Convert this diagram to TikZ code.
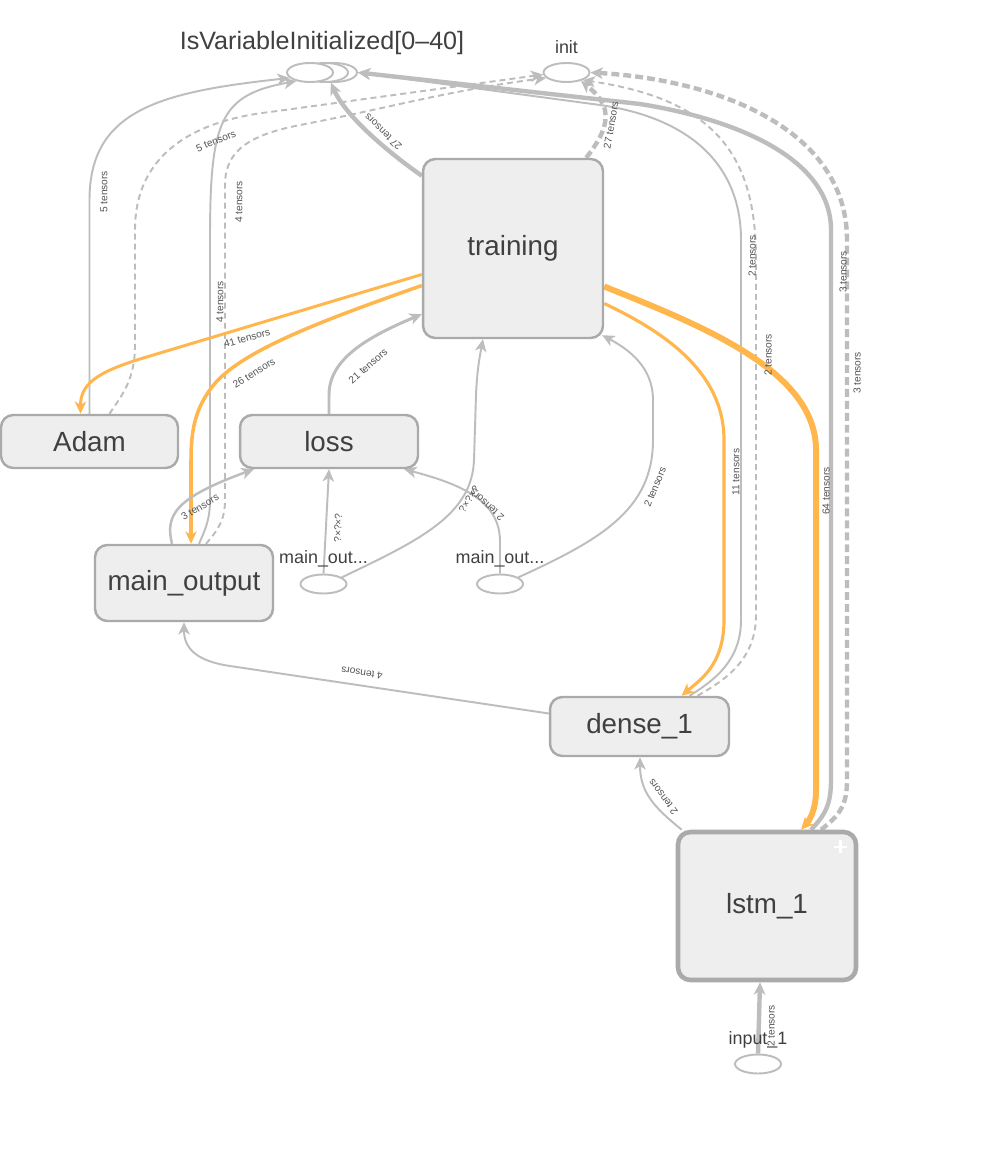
\documentclass[tikz,border=0pt]{standalone}
\usepackage{fontspec}
\setmainfont{Liberation Sans}
\usetikzlibrary{arrows.meta, positioning, calc, shapes.geometric}

\definecolor{boxfill}{HTML}{EEEEEE}
\definecolor{boxline}{HTML}{AAAAAA}
\definecolor{wire}{HTML}{BDBDBD}
\definecolor{hot}{HTML}{FFB74D}
\definecolor{ink}{HTML}{404040}
\definecolor{tagink}{HTML}{555555}

\pgfdeclarelayer{wires}
\pgfsetlayers{wires,main}

\tikzset{
  opbox/.style={draw=boxline, fill=boxfill, line width=1.4pt, rounded corners=7pt,
    text=ink, font=\fontsize{15.8}{18}\selectfont, inner sep=0pt},
  opnode/.style={ellipse, draw=wire, fill=white, line width=1.1pt,
    minimum width=0.92cm, minimum height=0.38cm, inner sep=0pt},
  oplabel/.style={text=ink, font=\fontsize{10.2}{12}\selectfont, inner sep=0pt},
  tag/.style={text=tagink, font=\fontsize{5.8}{7}\selectfont, inner sep=0pt},
  flow/.style={draw=wire, line width=1.1pt, -{Stealth[length=7pt,width=6.5pt,inset=2pt]}},
  flowthick/.style={flow, line width=2.5pt},
  ctrl/.style={dash pattern=on 3.4pt off 2.3pt},
  ctrlthick/.style={dash pattern=on 4.5pt off 2.3pt},
  hotflow/.style={flow, draw=hot, -{Stealth[length=7pt,width=6.5pt,inset=2pt,fill=hot]}}
}

\begin{document}
\begin{tikzpicture}[x=0.02cm, y=-0.02cm]
    \useasboundingbox (0,0) rectangle (981,1165);

    % Operation boxes
    \node[opbox, minimum width=3.6cm, minimum height=3.58cm] (training) at (513,248.5) {training};
    \node[opbox, minimum width=3.54cm, minimum height=1.06cm] (adam) at (89.5,441.5) {Adam};
    \node[opbox, minimum width=3.56cm, minimum height=1.06cm] (loss) at (329,441.5) {loss};
    \node[opbox, minimum width=3.56cm, minimum height=1.52cm] (mainout) at (184,583) {main\_output};
    \node[opbox, minimum width=3.58cm, minimum height=1.18cm] (dense) at (639.5,726.5) {dense\_1};
    \node[opbox, line width=2.6pt, minimum width=3.56cm, minimum height=2.96cm] (lstm) at (767,906) {lstm\_1};
    \draw[white, line width=1.4pt] ($(lstm.north east)+(-24.5,17)$) -- ++(13,0)
        ($(lstm.north east)+(-18,10.5)$) -- ++(0,13);

    % Single ops (ellipses)
    \node[opnode] (isvarc) at (334,72.5) {};
    \node[opnode] (isvarb) at (325,72.5) {};
    \node[opnode] (isvar) at (310,72.5) {};
    \node[oplabel, font=\fontsize{14.3}{16}\selectfont] (isvartitle) at (322,43) {IsVariableInitialized[0–40]};
    \node[opnode] (init) at (566.5,72.5) {};
    \node[oplabel] (inittitle) at (566.5,47) {init};
    \node[opnode] (mo1) at (323.5,584) {};
    \node[oplabel] (mo1title) at (323.5,559) {main\_out...};
    \node[opnode] (mo2) at (500,584) {};
    \node[oplabel] (mo2title) at (500,559) {main\_out...};
    \node[opnode] (inp) at (758,1064) {};
    \node[oplabel] (inptitle) at (758,1040) {input\_1};

    \begin{pgfonlayer}{wires}
    \fill[white] (0,0) rectangle (981,1165);
    % Adam
    \draw[flow] (adam.north) -- (89.5,200) .. controls (89.5,110) and (160,92) .. (isvar.195);
    \draw[flow, ctrl] ($(adam.north)+(20,0)$) .. controls (122,395) and (135,380) .. (135,345)
        -- (135,230) .. controls (135,150) and (200,120) .. (270,112) -- (init.185);

    % main_output
    \draw[flow] ($(mainout.north)+(15,0)$) .. controls (205,530) and (210,520) .. (210,500)
        -- (210,240) .. controls (210,120) and (220,95) .. (isvar.212);
    \draw[flow, ctrl] ($(mainout.north)+(22,0)$) .. controls (218,530) and (225,520) .. (225,500)
        -- (225,185) .. controls (225,150) and (250,135) .. (300,125) .. controls (380,110) and (450,90) .. (init.195);

    % training to the init ops
    \draw[flowthick] ($(training.north west)+(0,18)$) .. controls (385,150) and (345,115) .. (isvarb.300);
    \draw[flowthick, ctrlthick] ($(training.north east)+(-18,0)$) .. controls (600,140) and (608,125) .. (605,110)
        .. controls (602,98) and (592,90) .. (init.330);

    % lstm_1 and dense_1 to the init ops
    \draw[flowthick] ($(lstm.north)+(44,0)$) .. controls (825,815) and (831,805) .. (831,780)
        -- (831,230) .. controls (831,160) and (740,120) .. (640,104) -- (isvarc.east);
    \draw[flowthick, ctrlthick] ($(lstm.north)+(54,0)$) .. controls (840,815) and (847,805) .. (847,780)
        -- (847,240) .. controls (847,130) and (720,80) .. (init.east);
    \draw[flow] ($(dense.north)+(50,0)$) .. controls (715,680) and (741,660) .. (741,620)
        -- (741,240) .. controls (741,165) and (690,118) .. (600,105) -- (isvarc.east);
    \draw[flow, ctrl] ($(dense.north)+(58,0)$) .. controls (725,680) and (756,660) .. (756,615)
        -- (756,260) .. controls (756,160) and (720,100) .. (init.335);

    % training outputs (orange)
    \draw[hotflow, line width=1.7pt] ($(training.west)+(0,26)$) -- (140,359)
        .. controls (95,373) and (80.5,385) .. ($(adam.north)+(-9,0)$);
    \draw[hotflow, line width=2pt] ($(training.west)+(0,37)$) .. controls (330,318) and (240,350) .. (212,387)
        .. controls (196,408) and (191,428) .. (191,460) -- ($(mainout.north)+(7,0)$);
    \draw[hotflow, line width=1.8pt] ($(training.east)+(0,55)$) .. controls (660,330) and (724,370) .. (724,440)
        -- (724,620) .. controls (724,665) and (700,680) .. ($(dense.north)+(42,0)$);
    \draw[hotflow, line width=3.4pt] ($(training.east)+(0,38)$) .. controls (700,325) and (816,370) .. (816,450)
        -- (816,790) .. controls (816,812) and (808,822) .. ($(lstm.north)+(34,0)$);

    % inputs of training and loss
    \draw[flow, line width=1.7pt] (loss.north) -- (329,395) .. controls (329,360) and (365,338)
        .. ($(training.south west)+(0,-25)$);
    \draw[flow, line width=1.4pt] ($(mainout.north)+(-12,0)$) .. controls (165,515) and (175,498)
        .. ($(loss.south west)+(15,0)$);
    \draw[flow] (mo1.north) -- (loss.south);
    \draw[flow] (mo1.20) .. controls (420,540) and (472,515) .. (474,460) -- (476,395)
        .. controls (477,370) and (480,355) .. ($(training.south)+(-30,0)$);
    \draw[flow] (mo2.north) -- (500,540) .. controls (499,500) and (460,484) .. ($(loss.south east)+(-15,0)$);
    \draw[flow] (mo2.20) .. controls (600,540) and (653,510) .. (653,440) -- (653,400)
        .. controls (653,368) and (630,350) .. ($(training.south east)+(-2,-4)$);

    % lower chain
    \draw[flow] ($(dense.west)+(0,-13)$) -- (230,666) .. controls (196,661) and (184,648) .. (mainout.south);
    \draw[flow] ($(lstm.north west)+(6,0)$) .. controls (655,808) and (640,793) .. ($(dense.south)+(0.5,0)$);
    \draw[flowthick] (inp.north) -- ($(lstm.south)+(-7,0)$);
    \end{pgfonlayer}

    % Edge labels
    \node[tag, rotate=90] (t1) at (104,192) {5 tensors};
    \node[tag, rotate=22] (t2) at (216,141) {5 tensors};
    \node[tag, rotate=90] (t3) at (220,302) {4 tensors};
    \node[tag, rotate=90] (t4) at (239,202) {4 tensors};
    \node[tag, rotate=136] (t5) at (383,132) {27 tensors};
    \node[tag, rotate=80] (t6) at (611,125) {27 tensors};
    \node[tag, rotate=90] (t7) at (843,272) {3 tensors};
    \node[tag, rotate=90] (t8) at (857,373) {3 tensors};
    \node[tag, rotate=90] (t9) at (752,256) {2 tensors};
    \node[tag, rotate=90] (t10) at (768,355) {2 tensors};
    \node[tag, rotate=16] (t11) at (247,338) {41 tensors};
    \node[tag, rotate=32] (t12) at (254,373) {26 tensors};
    \node[tag, rotate=90] (t13) at (736,472) {11 tensors};
    \node[tag, rotate=90] (t14) at (826,491) {64 tensors};
    \node[tag, rotate=41] (t15) at (368,366) {21 tensors};
    \node[tag, rotate=31] (t16) at (200,507) {3 tensors};
    \node[tag, rotate=88] (t17) at (338,528) {?×?×?};
    \node[tag, rotate=57] (t18) at (469,499) {?×?×?};
    \node[tag, rotate=138] (t19) at (487,505) {2 tensors};
    \node[tag, rotate=67] (t20) at (655,487) {2 tensors};
    \node[tag, rotate=171.5] (t21) at (362,673) {4 tensors};
    \node[tag, rotate=127] (t22) at (663,797) {2 tensors};
    \node[tag, rotate=90] (t23) at (771,1026) {2 tensors};
\end{tikzpicture}
\end{document}
